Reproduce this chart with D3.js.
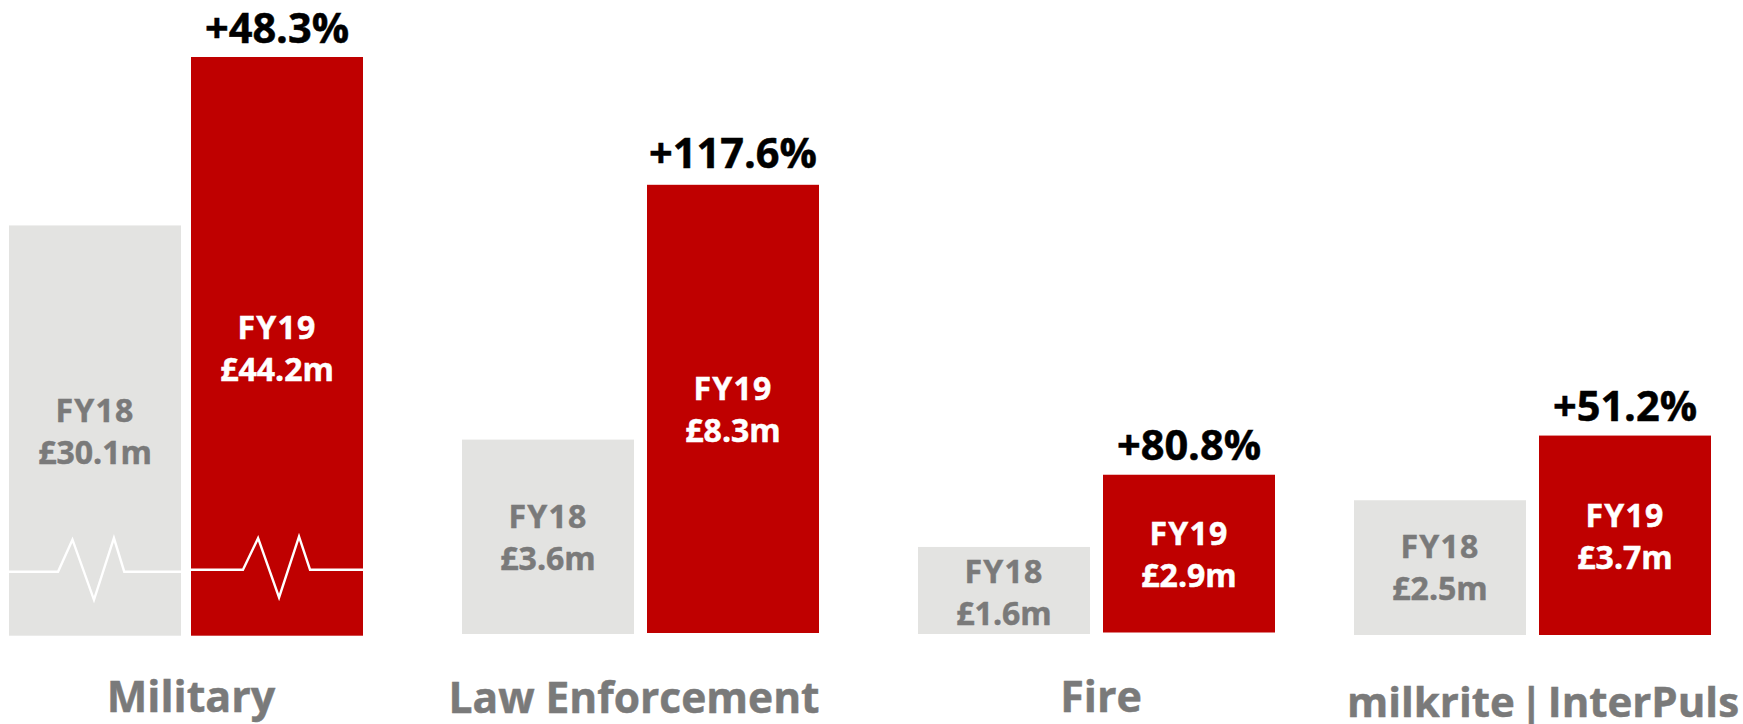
<!DOCTYPE html>
<html><head><meta charset="utf-8">
<script src="https://cdn.jsdelivr.net/npm/d3@7/dist/d3.min.js"></script>
<style>html,body{margin:0;padding:0;background:#fff}svg{display:block}text{font-family:"Open Sans",sans-serif;font-weight:700;text-anchor:middle}</style>
</head><body><svg id="c" width="1743" height="724"></svg>
<script>
const categories = ["Military","Law Enforcement","Fire","milkrite | InterPuls"];
const fy18Values = [30.1,3.6,1.6,2.5];
const fy19Values = [44.2,8.3,2.9,3.7];
const growthLabels = ["+48.3%","+117.6%","+80.8%","+51.2%"];
const periodLabels = ["FY18","FY19"];
const valueBreakMilitary = 1.2;   // £m at which the Military bars are broken
const pulseAlong18 = [0,0.285,0.369,0.494,0.61,0.67,1];
const pulseAlong19 = [0,0.302,0.39,0.512,0.628,0.692,1];
const pulseSwing = [0,0,1,-0.88,1.05,0,0];

const svg=d3.select("#c");
const barW=172;
const panelX=d3.scaleOrdinal().domain(categories).range([9,462,918,1354]);
const redOffset=d3.scaleOrdinal().domain(categories).range([182,185,185,185]);
const baseline18=d3.scaleOrdinal().domain(categories).range([635.7,634,634,635]);
const baseline19=d3.scaleOrdinal().domain(categories).range([635.7,633,632.5,635]);
const pxPerM=d3.scaleOrdinal().domain(categories).range([54,54,54.4,53.9]);
const catX=d3.scaleOrdinal().domain(categories).range([191,634,1101,1543]);
const catY=d3.scaleOrdinal().domain(categories).range([712,713,712,717]);
const catSize=d3.scaleOrdinal().domain(categories).range([43,42.5,43,42]);
const catWordSpacing=d3.scaleOrdinal().domain(categories).range([0,0,0,-6]);
const growthY=[43,168,460,421];
const labelCentre18=[443,549,604,579];
const labelCentre19=[360,421,566,548];

function heightScale(cat){
  if(cat==="Military"){
    return d3.scaleLinear().domain([0,valueBreakMilitary,44.2]).range([0,65,578.7]);
  }
  return d3.scaleLinear().domain([0,1]).range([0,pxPerM(cat)]);
}
const FS={growth:41.5,val:32};
const GREY="#e3e3e1",RED="#bf0000",TXT="#7a7a7a";
const addText=(g,x,y,size,fill,str)=>g.append("text").attr("x",x).attr("y",y).attr("font-size",size)
  .attr("fill",fill).attr("stroke",fill).attr("stroke-width",0.5).text(str);

categories.forEach((cat,i)=>{
  const h=heightScale(cat);
  const x18=panelX(cat),x19=x18+redOffset(cat);
  const b18=baseline18(cat),b19=baseline19(cat);
  const g=svg.append("g");
  const bars=[
    {x:x18,b:b18,v:fy18Values[i],fill:GREY,txt:TXT,lab:periodLabels[0],c:labelCentre18[i],along:pulseAlong18,nudge:1,amp:32},
    {x:x19,b:b19,v:fy19Values[i],fill:RED,txt:"#fff",lab:periodLabels[1],c:labelCentre19[i],along:pulseAlong19,nudge:-1,amp:31.5}
  ];
  g.selectAll("rect").data(bars).join("rect")
    .attr("x",d=>d.x).attr("width",barW)
    .attr("y",d=>d.b-h(d.v)).attr("height",d=>h(d.v)).attr("fill",d=>d.fill);
  if(cat==="Military"){
    bars.forEach(d=>{
      const px=d3.scaleLinear().domain([0,1]).range([d.x,d.x+barW]);
      const mid=d.b-h(valueBreakMilitary)+d.nudge;
      const py=d3.scaleLinear().domain([-1,1]).range([mid+d.amp,mid-d.amp]);
      g.append("path")
       .attr("d",d3.line().x(p=>px(p[0])).y(p=>py(p[1]))(d3.zip(d.along,pulseSwing)))
       .attr("fill","none").attr("stroke","#fff").attr("stroke-width",2.4);
    });
  }
  bars.forEach(d=>{
    const cx=d.x+barW/2;
    addText(g,cx,d.c-21,FS.val,d.txt,d.lab).style("letter-spacing","1.2px");
    addText(g,cx,d.c+21,FS.val,d.txt,"£"+d.v.toFixed(1)+"m");
  });
  addText(g,x19+barW/2,growthY[i],FS.growth,"#000",growthLabels[i]);
  addText(g,catX(cat),catY(cat),catSize(cat),TXT,cat).style("word-spacing",catWordSpacing(cat)+"px");
});
</script></body></html>
